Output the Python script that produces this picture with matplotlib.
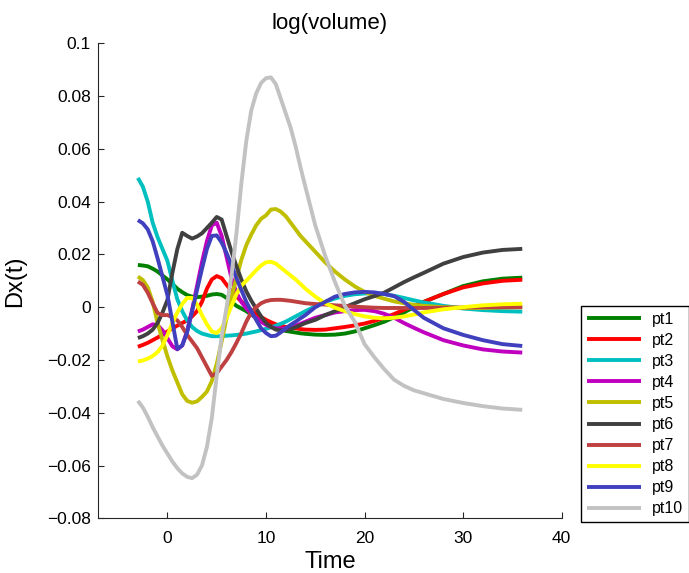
import matplotlib
matplotlib.use("Agg")
import matplotlib.pyplot as plt

plt.rcParams['font.family'] = ['Liberation Sans', 'DejaVu Sans']

# sample times: half steps through the busy early section, coarser later on
time = [-3, -2.5, -2, -1.5, -1, -0.5, 0, 0.5, 1, 1.5, 2, 2.5, 3, 3.5, 4, 4.5, 5, 5.5,
        6, 6.5, 7, 7.5, 8, 8.5, 9, 9.5, 10, 10.5, 11, 11.5, 12, 12.5, 13, 13.5, 14,
        15, 16, 17, 18, 19, 20, 21, 22, 23, 24, 25, 26, 28, 30, 32, 34, 36]

pt1 = [0.016, 0.0158, 0.0155, 0.0146, 0.0135, 0.012, 0.0105, 0.0088, 0.007, 0.0057,
       0.0046, 0.004, 0.0038, 0.004, 0.0043, 0.0048, 0.005, 0.0047, 0.0035, 0.002,
       0.0005, -0.0005, -0.0015, -0.0028, -0.004, -0.005, -0.006, -0.007, -0.008, -0.0085,
       -0.009, -0.0093, -0.0096, -0.0099, -0.0101,
       -0.0104, -0.0105, -0.0104, -0.010, -0.0092, -0.008, -0.0068, -0.0055, -0.0038, -0.002,
       0.0, 0.002, 0.005, 0.008, 0.0098, 0.0108, 0.0112]
pt2 = [-0.015, -0.0143, -0.0135, -0.0125, -0.0115, -0.0104, -0.0092, -0.008, -0.007, -0.006,
       -0.005, -0.0035, -0.0015, 0.002, 0.007, 0.0105, 0.0118, 0.011, 0.0085, 0.006,
       0.004, 0.0022, 0.0005, -0.001, -0.0025, -0.0037, -0.0048, -0.0057, -0.0065, -0.007,
       -0.0075, -0.0078, -0.008, -0.0083, -0.0085,
       -0.0086, -0.0085, -0.008, -0.0075, -0.0069, -0.0062, -0.0052, -0.004, -0.0026, -0.001,
       0.0005, 0.002, 0.005, 0.0075, 0.009, 0.010, 0.0104]
pt3 = [0.049, 0.0457, 0.040, 0.032, 0.0265, 0.022, 0.0175, 0.010, 0.003, -0.0015,
       -0.005, -0.0075, -0.009, -0.010, -0.0105, -0.011, -0.011, -0.011, -0.0108, -0.0107,
       -0.0105, -0.0103, -0.010, -0.0096, -0.0092, -0.0087, -0.0082, -0.0076, -0.007, -0.0063,
       -0.0055, -0.0045, -0.0035, -0.0025, -0.0015,
       0.0003, 0.002, 0.0033, 0.0043, 0.0049, 0.0052, 0.0053, 0.005, 0.0043, 0.0035,
       0.0026, 0.0018, 0.0005, -0.0005, -0.0011, -0.0015, -0.0017]
pt4 = [-0.0092, -0.0085, -0.0075, -0.0065, -0.0068, -0.0088, -0.0118, -0.0148, -0.016, -0.0145,
       -0.009, -0.001, 0.008, 0.017, 0.025, 0.031, 0.032, 0.027, 0.019, 0.011,
       0.0055, 0.002, -0.0005, -0.0025, -0.004, -0.0055, -0.0067, -0.0075, -0.008, -0.0081,
       -0.008, -0.0076, -0.007, -0.0063, -0.0055,
       -0.004, -0.003, -0.002, -0.0015, -0.0011, -0.001, -0.0015, -0.0025, -0.004, -0.006,
       -0.0078, -0.0095, -0.0125, -0.0145, -0.016, -0.0168, -0.0172]
pt5 = [0.0116, 0.0103, 0.0075, 0.002, -0.006, -0.0125, -0.0187, -0.024, -0.0285, -0.033,
       -0.0355, -0.0362, -0.0357, -0.034, -0.032, -0.028, -0.0215, -0.013, -0.004, 0.004,
       0.011, 0.018, 0.0235, 0.0275, 0.031, 0.0335, 0.0348, 0.037, 0.0372, 0.0362,
       0.0345, 0.032, 0.0295, 0.027, 0.025,
       0.021, 0.017, 0.0135, 0.0105, 0.0079, 0.0058, 0.0043, 0.0032, 0.0022, 0.0015,
       0.0009, 0.0005, 0.0, -0.0003, -0.0003, -0.0001, 0.0]
pt6 = [-0.0117, -0.011, -0.010, -0.0085, -0.006, -0.002, 0.0028, 0.013, 0.022, 0.0282,
       0.027, 0.026, 0.0268, 0.028, 0.030, 0.032, 0.0342, 0.0332, 0.027, 0.021,
       0.0155, 0.0105, 0.006, 0.0025, -0.0005, -0.0035, -0.006, -0.0075, -0.0085, -0.0088,
       -0.0087, -0.0082, -0.0076, -0.0068, -0.006,
       -0.0048, -0.003, -0.0015, 0.0, 0.0015, 0.003, 0.0042, 0.0055, 0.0075, 0.0095,
       0.0113, 0.013, 0.0165, 0.019, 0.0207, 0.0217, 0.0221]
pt7 = [0.0097, 0.0085, 0.0055, 0.0015, -0.0022, -0.003, -0.003, -0.0038, -0.005, -0.0075,
       -0.0105, -0.013, -0.0155, -0.019, -0.0225, -0.026, -0.025, -0.0225, -0.020, -0.017,
       -0.0135, -0.0098, -0.0055, -0.002, 0.0, 0.0015, 0.0023, 0.0027, 0.0028, 0.0028,
       0.0026, 0.0024, 0.0021, 0.0018, 0.0015,
       0.0012, 0.001, 0.0007, 0.0005, 0.0002, 0.0, -0.0002, -0.0003, -0.0003, -0.0003,
       -0.0003, -0.0003, -0.0002, -0.0001, 0.0, 0.0, 0.0]
pt8 = [-0.0206, -0.0202, -0.0195, -0.0185, -0.017, -0.0145, -0.0105, -0.006, -0.002, 0.0012,
       0.0035, 0.0035, 0.001, -0.003, -0.0065, -0.0092, -0.0098, -0.008, -0.004, 0.0005,
       0.005, 0.0082, 0.010, 0.012, 0.014, 0.0158, 0.017, 0.0172, 0.0165, 0.015,
       0.0135, 0.012, 0.0105, 0.0088, 0.007,
       0.004, 0.0015, -0.0002, -0.0015, -0.0026, -0.0035, -0.004, -0.0042, -0.004, -0.0035,
       -0.0028, -0.002, -0.0008, 0.0, 0.0007, 0.0011, 0.0013]
pt9 = [0.033, 0.0318, 0.0295, 0.025, 0.0185, 0.0115, 0.0045, -0.0055, -0.0158, -0.0145,
       -0.0095, -0.0015, 0.0065, 0.0145, 0.022, 0.027, 0.0272, 0.0245, 0.0205, 0.016,
       0.011, 0.0065, 0.002, -0.0015, -0.0048, -0.008, -0.0098, -0.011, -0.0108, -0.0095,
       -0.008, -0.0067, -0.0055, -0.0042, -0.003,
       0.0, 0.002, 0.004, 0.005, 0.0056, 0.0058, 0.0056, 0.005, 0.0042, 0.002,
       -0.001, -0.004, -0.008, -0.0105, -0.0125, -0.014, -0.0147]
pt10 = [-0.0355, -0.038, -0.0415, -0.0455, -0.049, -0.0525, -0.0555, -0.0585, -0.061, -0.063,
        -0.0643, -0.0648, -0.0635, -0.060, -0.053, -0.042, -0.026, -0.011, 0.000, 0.012,
        0.028, 0.047, 0.063, 0.0745, 0.081, 0.085, 0.0868, 0.0871, 0.0845, 0.079,
        0.0735, 0.068, 0.061, 0.053, 0.0455,
        0.031, 0.0195, 0.0095, 0.0005, -0.0055, -0.014, -0.019, -0.0235, -0.0275, -0.0298,
        -0.0315, -0.0326, -0.0348, -0.0363, -0.0375, -0.0384, -0.0389]

series = [pt1, pt2, pt3, pt4, pt5, pt6, pt7, pt8, pt9, pt10]
names = ['pt1', 'pt2', 'pt3', 'pt4', 'pt5', 'pt6', 'pt7', 'pt8', 'pt9', 'pt10']
colors = [(0, 0.5, 0), (1, 0, 0), (0, 0.75, 0.75), (0.75, 0, 0.75), (0.75, 0.75, 0),
          (0.25, 0.25, 0.25), (0.75, 0.25, 0.25), (1, 1, 0), (0.25, 0.25, 0.75),
          (0.76, 0.76, 0.76)]

x_ticks = [0, 10, 20, 30, 40]
y_ticks = [-0.08, -0.06, -0.04, -0.02, 0, 0.02, 0.04, 0.06, 0.08, 0.1]
y_labels = ['\u22120.08', '\u22120.06', '\u22120.04', '\u22120.02', '0',
            '0.02', '0.04', '0.06', '0.08', '0.1']

fig = plt.figure(figsize=(6.89, 5.73), dpi=100)
ax = fig.add_axes([0.1422, 0.0955, 0.8152 - 0.1422, 0.9244 - 0.0955])

for vals, name, c in zip(series, names, colors):
    ax.plot(time, vals, color=c, lw=2.8, label=name, solid_joinstyle='round',
            solid_capstyle='butt')

ax.set_xlim(-7.05, 40)
ax.set_ylim(-0.08, 0.1)
ax.set_xticks(x_ticks)
ax.set_xticklabels([str(v) for v in x_ticks])
ax.set_yticks(y_ticks)
ax.set_yticklabels(y_labels)
ax.spines['top'].set_visible(False)
ax.spines['right'].set_visible(False)
for s in ('left', 'bottom'):
    ax.spines[s].set_linewidth(0.8)
    ax.spines[s].set_color('#262626')
ax.tick_params(direction='in', length=4, width=0.8, labelsize=12.5, colors='#262626',
               labelcolor='black')
ax.tick_params(axis='x', pad=9)
ax.tick_params(axis='y', pad=5)

ax.set_title('log(volume)', fontsize=16, pad=10)
ax.set_xlabel('Time', fontsize=17, labelpad=3.5)
ax.set_ylabel('Dx(t)', fontsize=17, labelpad=15)

leg = fig.legend(loc='lower left', bbox_to_anchor=(581 / 689, 1 - 522 / 573),
                 fontsize=11.5, frameon=True, fancybox=False, framealpha=1,
                 edgecolor='black', handlelength=3.4, handletextpad=0.7,
                 labelspacing=0.38, borderpad=0.35, borderaxespad=0)
leg.get_frame().set_linewidth(1.0)

fig.savefig('out.png', dpi=100)
